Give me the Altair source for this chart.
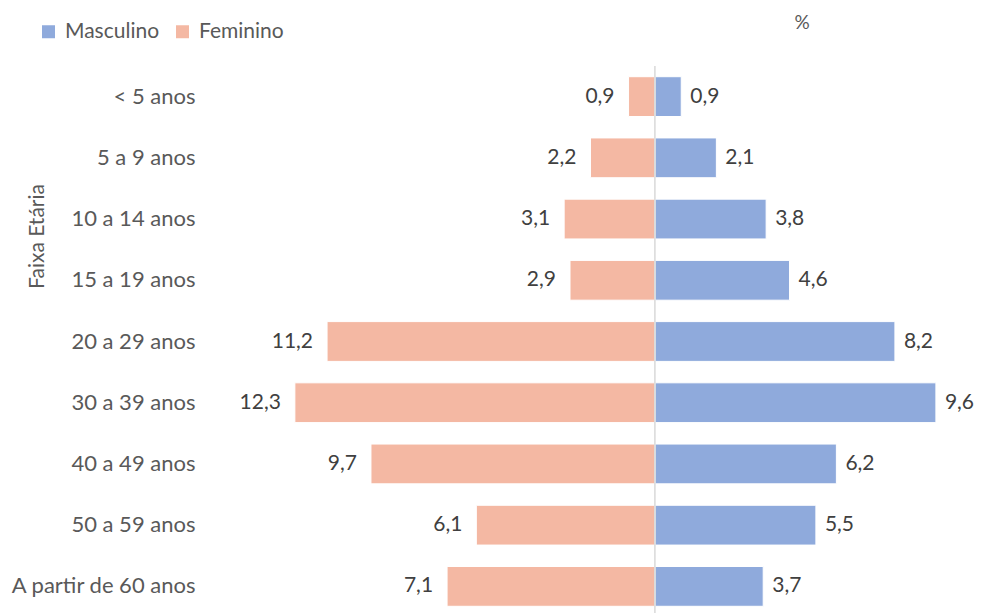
import altair as alt
import pandas as pd

faixas = ["< 5 anos", "5 a 9 anos", "10 a 14 anos", "15 a 19 anos", "20 a 29 anos",
          "30 a 39 anos", "40 a 49 anos", "50 a 59 anos", "A partir de 60 anos"]
masculino = [0.9, 2.1, 3.8, 4.6, 8.2, 9.6, 6.2, 5.5, 3.7]
feminino = [0.9, 2.2, 3.1, 2.9, 11.2, 12.3, 9.7, 6.1, 7.1]
sexos = ["Masculino", "Feminino"]
cores = ["#8FAADC", "#F4B8A3"]

rows = []
for f, m, w in zip(faixas, masculino, feminino):
    rows.append({"faixa": f, "sexo": "Masculino", "valor": m, "pos": m})
    rows.append({"faixa": f, "sexo": "Feminino", "valor": w, "pos": -w})
df = pd.DataFrame(rows)

FONT = "Lato"
TXT = "#595959"
FS = 21

yenc = alt.Y("faixa:N", sort=faixas,
             scale=alt.Scale(paddingInner=0.35, paddingOuter=0.175),
             axis=alt.Axis(title="Faixa Etária", domain=False, ticks=False,
                           labelPadding=10, labelFontSize=22, labelColor=TXT,
                           labelLimit=400,
                           labelFont=FONT, titleFont=FONT, titleFontSize=21,
                           titleColor=TXT, titleFontWeight="normal",
                           titleX=-168, titleY=170, titleAngle=270,
                           titleAlign="center", titleBaseline="middle"))
xscale = alt.Scale(domain=[-15.37, 10.97], nice=False, zero=False)

base = alt.Chart(df).transform_calculate(
    label="replace(format(datum.valor, '.1f'), '.', ',')"
)

bars = base.mark_bar(stroke="white", strokeWidth=1).encode(
    x=alt.X("pos:Q", scale=xscale, axis=None),
    y=yenc,
    color=alt.Color("sexo:N", sort=sexos,
                    scale=alt.Scale(domain=sexos, range=cores),
                    legend=alt.Legend(title=None, orient="none", direction="horizontal",
                                      legendX=-167, legendY=-45, symbolType="square",
                                      symbolSize=169, symbolStrokeWidth=0,
                                      labelFontSize=21, labelFont=FONT,
                                      labelColor=TXT, columnPadding=12, labelOffset=6,
                                      symbolOpacity=1)),
)

rule = alt.Chart(pd.DataFrame({"x": [0]})).mark_rule(color="#D9D9D9", strokeWidth=1.5).encode(
    x=alt.X("x:Q", scale=xscale)
)

lab_m = base.transform_filter("datum.sexo == 'Masculino'").mark_text(
    align="left", baseline="middle", dx=9, fontSize=FS, font=FONT, color="#404040"
).encode(x=alt.X("pos:Q", scale=xscale), y=alt.Y("faixa:N", sort=faixas), text="label:N")

lab_f = base.transform_filter("datum.sexo == 'Feminino'").mark_text(
    align="right", baseline="middle", dx=-14, fontSize=FS, font=FONT, color="#404040"
).encode(x=alt.X("pos:Q", scale=xscale), y=alt.Y("faixa:N", sort=faixas), text="label:N")

pct = alt.Chart(pd.DataFrame({"t": ["%"]})).mark_text(
    align="center", baseline="middle", fontSize=19, font=FONT, color=TXT
).encode(text="t:N", x=alt.value(597), y=alt.value(-43))

chart = alt.layer(bars, rule, lab_m, lab_f, pct).properties(
    width=771, height=551,
    background="white",
    autosize=alt.AutoSizeParams(type="none"),
    padding={"left": 197, "top": 58, "right": 0, "bottom": 0},
).configure_view(strokeWidth=0, stroke="transparent")

chart.save("out.html", embed_options={"renderer": "svg", "actions": False})
